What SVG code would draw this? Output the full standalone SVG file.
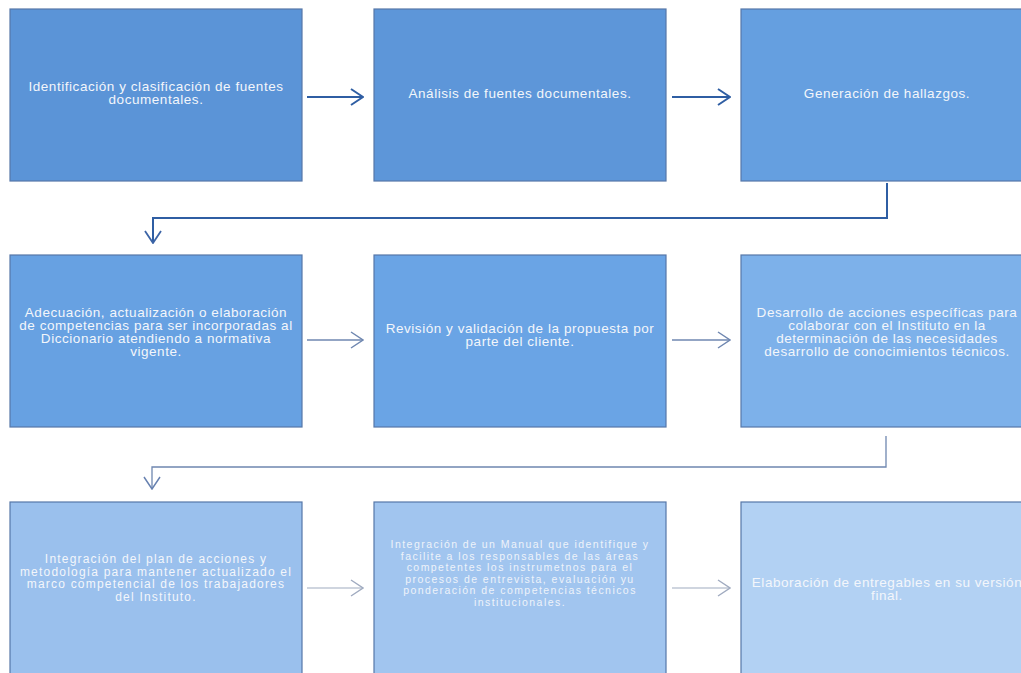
<svg xmlns="http://www.w3.org/2000/svg" width="1021" height="673" viewBox="0 0 1021 673">
<defs>
<marker id="hd1" viewBox="0 0 14 18" refX="13" refY="9" markerWidth="14" markerHeight="18" markerUnits="userSpaceOnUse" orient="auto">
<polyline points="1,1 13,9 1,17" fill="none" stroke="#2f5ea3" stroke-width="2"/>
</marker>
<marker id="hd2" viewBox="0 0 14 18" refX="13" refY="9" markerWidth="14" markerHeight="18" markerUnits="userSpaceOnUse" orient="auto">
<polyline points="1,1 13,9 1,17" fill="none" stroke="#6f87b0" stroke-width="1.5"/>
</marker>
<marker id="hd3" viewBox="0 0 14 18" refX="13" refY="9" markerWidth="14" markerHeight="18" markerUnits="userSpaceOnUse" orient="auto">
<polyline points="1,1 13,9 1,17" fill="none" stroke="#a0abc0" stroke-width="1.4"/>
</marker>
<marker id="hdc1" viewBox="0 0 14 18" refX="13" refY="9" markerWidth="14" markerHeight="18" markerUnits="userSpaceOnUse" orient="auto">
<polyline points="1,1 13,9 1,17" fill="none" stroke="#3c64a6" stroke-width="1.8"/>
</marker>
<marker id="hdc2" viewBox="0 0 14 18" refX="13" refY="9" markerWidth="14" markerHeight="18" markerUnits="userSpaceOnUse" orient="auto">
<polyline points="1,1 13,9 1,17" fill="none" stroke="#6781b0" stroke-width="1.5"/>
</marker>
</defs>
<style>
.box{stroke:#5677a8;stroke-width:1.2}
.t{font-family:"Liberation Sans",Arial,sans-serif;font-size:13.5px;letter-spacing:0.55px;fill:#f3f6fb;text-anchor:middle}
.t7{font-size:12px;letter-spacing:1.2px}
.t3{font-size:10.5px;letter-spacing:1.45px;fill:#eef3fa}
.a1{fill:none;stroke:#2f5ea3;stroke-width:2}
.a2{fill:none;stroke:#6f87b0;stroke-width:1.3}
.a3{fill:none;stroke:#a0abc0;stroke-width:1.2}
</style>
<rect width="1021" height="673" fill="#ffffff"/>

<g id="n1"><rect class="box" x="10" y="9" width="292" height="172" fill="#5b94d7"/>
<text class="t" x="156" y="91">Identificación y clasificación de fuentes</text>
<text class="t" x="156" y="104">documentales.</text></g>

<g id="n2"><rect class="box" x="374" y="9" width="292" height="172" fill="#5d96d9"/>
<text class="t" x="520" y="98">Análisis de fuentes documentales.</text></g>

<g id="n3"><rect class="box" x="741" y="9" width="292" height="172" fill="#659fe0"/>
<text class="t" x="887" y="98">Generación de hallazgos.</text></g>

<g id="n4"><rect class="box" x="10" y="255" width="292" height="172" fill="#67a1e2"/>
<text class="t" x="156" y="317">Adecuación, actualización o elaboración</text>
<text class="t" x="156" y="330">de competencias para ser incorporadas al</text>
<text class="t" x="156" y="343">Diccionario atendiendo a normativa</text>
<text class="t" x="156" y="356">vigente.</text></g>

<g id="n5"><rect class="box" x="374" y="255" width="292" height="172" fill="#6aa4e5"/>
<text class="t" x="520" y="333">Revisión y validación de la propuesta por</text>
<text class="t" x="520" y="346">parte del cliente.</text></g>

<g id="n6"><rect class="box" x="741" y="255" width="292" height="172" fill="#7db1ea"/>
<text class="t" x="887" y="317">Desarrollo de acciones específicas para</text>
<text class="t" x="887" y="330">colaborar con el Instituto en la</text>
<text class="t" x="887" y="343">determinación de las necesidades</text>
<text class="t" x="887" y="356">desarrollo de conocimientos técnicos.</text></g>

<g id="n7"><rect class="box" x="10" y="502" width="292" height="172" fill="#9ac0ed"/>
<text class="t t7" x="156" y="563">Integración del plan de acciones y</text>
<text class="t t7" x="156" y="575.5">metodología para mantener actualizado el</text>
<text class="t t7" x="156" y="588">marco competencial de los trabajadores</text>
<text class="t t7" x="156" y="600.5">del Instituto.</text></g>

<g id="n8"><rect class="box" x="374" y="502" width="292" height="172" fill="#a1c5ef"/>
<text class="t t3" x="520" y="548">Integración de un Manual que identifique y</text>
<text class="t t3" x="520" y="559.5">facilite a los responsables de las áreas</text>
<text class="t t3" x="520" y="571">competentes los instrumetnos para el</text>
<text class="t t3" x="520" y="582.5">procesos de entrevista, evaluación yu</text>
<text class="t t3" x="520" y="594">ponderación de competencias técnicos</text>
<text class="t t3" x="520" y="605.5">institucionales.</text></g>

<g id="n9"><rect class="box" x="741" y="502" width="292" height="172" fill="#b2d1f3"/>
<text class="t" x="887" y="587">Elaboración de entregables en su versión</text>
<text class="t" x="887" y="600">final.</text></g>

<g id="connectors">
<path class="a1" d="M307 97 H363" marker-end="url(#hd1)"/>
<path class="a1" d="M672 97 H730" marker-end="url(#hd1)"/>
<path class="a1" d="M887 183 V218 H153 V243" stroke="#3c64a6" stroke-width="1.8" marker-end="url(#hdc1)"/>
<path class="a2" d="M307 340 H363" marker-end="url(#hd2)"/>
<path class="a2" d="M672 340 H730" marker-end="url(#hd2)"/>
<path class="a2" d="M886 436 V467 H152 V489" stroke="#6781b0" stroke-width="1.5" marker-end="url(#hdc2)"/>
<path class="a3" d="M307 588 H363" marker-end="url(#hd3)"/>
<path class="a3" d="M672 588 H730" marker-end="url(#hd3)"/>
</g>
</svg>
